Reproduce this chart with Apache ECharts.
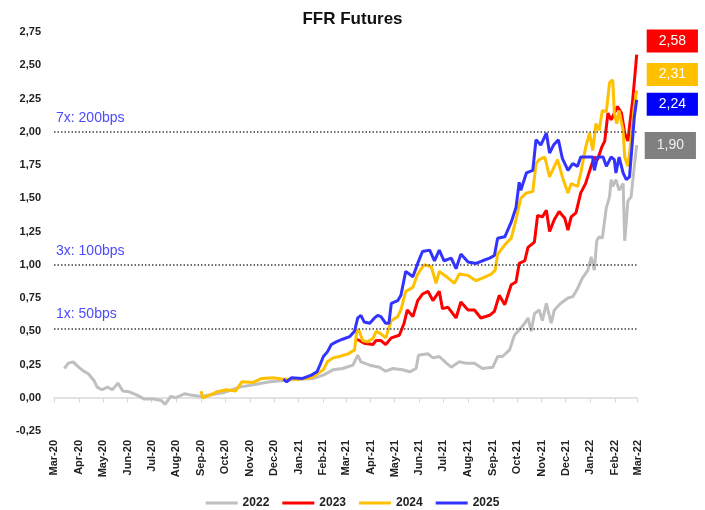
<!DOCTYPE html>
<html>
<head>
<meta charset="utf-8">
<script src="https://cdn.jsdelivr.net/npm/echarts@6/dist/echarts.min.js"></script>
<style>html,body{margin:0;padding:0;background:#fff}#c{width:705px;height:510px}</style>
</head>
<body>
<div id="c"></div>
<script>
const seriesNames = ['2022', '2023', '2024', '2025'];
const tickDates = ['2020-03-01','2020-04-01','2020-05-01','2020-06-01','2020-07-01','2020-08-01','2020-09-01','2020-10-01','2020-11-01','2020-12-01','2021-01-01','2021-02-01','2021-03-01','2021-04-01','2021-05-01','2021-06-01','2021-07-01','2021-08-01','2021-09-01','2021-10-01','2021-11-01','2021-12-01','2022-01-01','2022-02-01','2022-03-01'];
const tickLabels = ['Mar-20','Apr-20','May-20','Jun-20','Jul-20','Aug-20','Sep-20','Oct-20','Nov-20','Dec-20','Jan-21','Feb-21','Mar-21','Apr-21','May-21','Jun-21','Jul-21','Aug-21','Sep-21','Oct-21','Nov-21','Dec-21','Jan-22','Feb-22','Mar-22'];
const refLevels = [2.0, 1.0, 0.52];
const refLabels = ['7x: 200bps', '3x: 100bps', '1x: 50bps'];

const dates2022 = ['2020-03-14','2020-03-19','2020-03-25','2020-03-30','2020-04-07','2020-04-13','2020-04-20','2020-04-24','2020-04-30','2020-05-07','2020-05-13','2020-05-20','2020-05-26','2020-06-03','2020-06-13','2020-06-22','2020-07-04','2020-07-13','2020-07-18','2020-07-25','2020-07-31','2020-08-11','2020-08-19','2020-09-01','2020-09-11','2020-09-30','2020-10-19','2020-11-07','2020-11-26','2020-12-14','2021-01-02','2021-01-19','2021-02-01','2021-02-13','2021-02-25','2021-03-10','2021-03-16','2021-03-20','2021-03-31','2021-04-12','2021-04-20','2021-04-29','2021-05-11','2021-05-20','2021-05-28','2021-05-31','2021-06-12','2021-06-18','2021-06-26','2021-07-05','2021-07-11','2021-07-21','2021-07-30','2021-08-09','2021-08-19','2021-09-01','2021-09-07','2021-09-13','2021-09-22','2021-09-28','2021-10-04','2021-10-11','2021-10-15','2021-10-19','2021-10-23','2021-10-29','2021-11-02','2021-11-07','2021-11-13','2021-11-17','2021-11-25','2021-12-04','2021-12-10','2021-12-16','2021-12-22','2021-12-29','2022-01-02','2022-01-06','2022-01-09','2022-01-12','2022-01-16','2022-01-21','2022-01-25','2022-01-27','2022-01-29','2022-02-02','2022-02-06','2022-02-11','2022-02-13','2022-02-17','2022-02-21','2022-02-25','2022-02-28'];
const values2022 = [0.22,0.26,0.27,0.24,0.20,0.18,0.13,0.08,0.06,0.08,0.06,0.11,0.05,0.045,0.02,-0.01,-0.01,-0.02,-0.05,0.01,0.00,0.03,0.02,0.01,0.02,0.04,0.08,0.10,0.12,0.13,0.14,0.145,0.17,0.21,0.22,0.245,0.32,0.27,0.245,0.23,0.20,0.22,0.21,0.195,0.22,0.32,0.33,0.30,0.31,0.26,0.23,0.27,0.26,0.26,0.22,0.23,0.31,0.31,0.36,0.47,0.51,0.56,0.60,0.50,0.63,0.66,0.58,0.71,0.56,0.66,0.71,0.75,0.76,0.82,0.90,0.96,1.06,0.96,1.18,1.21,1.20,1.43,1.51,1.64,1.59,1.64,1.56,1.61,1.18,1.48,1.51,1.74,1.90];

const dates2023 = ['2021-03-15','2021-03-18','2021-03-24','2021-04-04','2021-04-08','2021-04-14','2021-04-20','2021-04-27','2021-05-07','2021-05-13','2021-05-17','2021-05-24','2021-05-30','2021-06-05','2021-06-12','2021-06-18','2021-06-26','2021-06-30','2021-07-07','2021-07-17','2021-07-23','2021-08-01','2021-08-09','2021-08-17','2021-08-28','2021-09-03','2021-09-09','2021-09-16','2021-09-24','2021-09-30','2021-10-04','2021-10-11','2021-10-15','2021-10-23','2021-10-27','2021-11-02','2021-11-07','2021-11-11','2021-11-17','2021-11-23','2021-11-30','2021-12-04','2021-12-08','2021-12-14','2021-12-20','2021-12-26','2022-01-02','2022-01-06','2022-01-10','2022-01-15','2022-01-19','2022-01-23','2022-01-27','2022-02-04','2022-02-09','2022-02-13','2022-02-17','2022-02-19','2022-02-23','2022-02-26','2022-02-28'];
const values2023 = [0.44,0.43,0.41,0.40,0.43,0.43,0.40,0.45,0.47,0.56,0.66,0.61,0.73,0.78,0.80,0.73,0.80,0.67,0.68,0.60,0.72,0.66,0.66,0.60,0.62,0.65,0.77,0.70,0.85,0.87,1.01,1.03,1.13,1.17,1.37,1.36,1.41,1.25,1.34,1.40,1.35,1.26,1.36,1.39,1.54,1.61,1.74,1.81,1.79,1.88,1.93,2.14,2.09,2.19,2.14,1.99,1.93,2.04,2.24,2.44,2.58];

const dates2024 = ['2020-09-01','2020-09-03','2020-09-12','2020-09-21','2020-10-03','2020-10-14','2020-10-22','2020-11-05','2020-11-16','2020-11-30','2020-12-13','2021-01-02','2021-01-17','2021-01-28','2021-02-01','2021-02-06','2021-02-13','2021-02-21','2021-03-04','2021-03-12','2021-03-15','2021-03-18','2021-03-22','2021-03-28','2021-04-04','2021-04-08','2021-04-14','2021-04-20','2021-04-22','2021-04-27','2021-05-05','2021-05-09','2021-05-15','2021-05-24','2021-05-30','2021-06-07','2021-06-16','2021-06-22','2021-06-26','2021-07-05','2021-07-15','2021-07-21','2021-08-01','2021-08-11','2021-08-19','2021-08-30','2021-09-04','2021-09-07','2021-09-16','2021-09-24','2021-09-30','2021-10-06','2021-10-13','2021-10-21','2021-10-25','2021-10-29','2021-11-05','2021-11-11','2021-11-17','2021-11-21','2021-11-27','2021-12-04','2021-12-08','2021-12-16','2021-12-20','2021-12-26','2021-12-31','2022-01-04','2022-01-08','2022-01-12','2022-01-16','2022-01-21','2022-01-25','2022-01-29','2022-01-31','2022-02-03','2022-02-06','2022-02-11','2022-02-13','2022-02-17','2022-02-21','2022-02-25','2022-02-28'];
const values2024 = [0.05,0.00,0.02,0.045,0.06,0.05,0.12,0.115,0.145,0.15,0.14,0.14,0.15,0.195,0.21,0.27,0.30,0.31,0.33,0.36,0.51,0.50,0.43,0.42,0.445,0.50,0.48,0.45,0.45,0.58,0.61,0.66,0.80,0.83,0.93,1.00,0.985,0.86,0.95,0.91,0.86,0.93,0.92,0.88,0.90,0.93,0.96,1.08,1.15,1.20,1.34,1.50,1.54,1.55,1.76,1.79,1.81,1.66,1.74,1.79,1.66,1.54,1.61,1.59,1.69,1.88,1.99,1.86,2.06,2.01,2.16,2.15,2.37,2.39,2.14,2.06,2.16,2.01,1.81,1.74,1.94,2.19,2.31];

const dates2025 = ['2020-12-13','2020-12-17','2020-12-23','2021-01-06','2021-01-17','2021-01-24','2021-01-28','2021-02-01','2021-02-06','2021-02-11','2021-02-17','2021-02-25','2021-03-06','2021-03-12','2021-03-16','2021-03-20','2021-03-24','2021-03-31','2021-04-06','2021-04-10','2021-04-14','2021-04-20','2021-04-24','2021-04-27','2021-05-05','2021-05-09','2021-05-15','2021-05-24','2021-05-30','2021-06-05','2021-06-14','2021-06-20','2021-06-26','2021-07-02','2021-07-11','2021-07-17','2021-07-23','2021-08-01','2021-08-11','2021-08-19','2021-08-28','2021-09-03','2021-09-07','2021-09-16','2021-09-24','2021-09-30','2021-10-04','2021-10-06','2021-10-13','2021-10-21','2021-10-25','2021-10-31','2021-11-07','2021-11-11','2021-11-16','2021-11-22','2021-11-27','2021-12-04','2021-12-10','2021-12-16','2021-12-20','2021-12-29','2022-01-04','2022-01-06','2022-01-10','2022-01-17','2022-01-21','2022-01-27','2022-01-31','2022-02-02','2022-02-06','2022-02-11','2022-02-15','2022-02-19','2022-02-22','2022-02-25','2022-02-28'];
const values2025 = [0.14,0.12,0.15,0.145,0.17,0.195,0.25,0.31,0.345,0.40,0.42,0.44,0.46,0.50,0.60,0.62,0.57,0.56,0.60,0.62,0.61,0.56,0.56,0.71,0.73,0.77,0.95,0.91,1.01,1.10,1.11,1.03,1.11,1.03,1.05,0.97,1.08,1.02,1.01,1.03,1.05,1.07,1.20,1.21,1.32,1.43,1.62,1.56,1.69,1.71,1.94,1.90,1.99,1.84,1.90,1.94,1.80,1.71,1.76,1.74,1.81,1.81,1.81,1.71,1.81,1.81,1.74,1.81,1.79,1.69,1.81,1.69,1.64,1.66,1.88,2.11,2.24];

const lineColors = ['#bfbfbf', '#ff0000', '#ffc000', '#3333ff'];
const boxColors = ['#808080', '#ff0000', '#ffc000', '#0000ff'];
const boxTextColors = ['#eeeeee', '#ffffff', '#ffffff', '#ffffff'];
const boxOffsets = [[0, 0.5], [0, -13.5], [0, -16], [0, 4.5]];
const boxDistances = [8, 10, 10, 10];
const boxPadding = [[6, 12], [4, 12], [4, 12], [4, 12]];

function ts(s) { const p = s.split('-').map(Number); return Date.UTC(p[0], p[1] - 1, p[2]); }
function fmtNum(v) { return v.toFixed(2).replace('.', ','); }

const allDates = [dates2022, dates2023, dates2024, dates2025];
const allValues = [values2022, values2023, values2024, values2025];
const tickTs = tickDates.map(ts);

const series = seriesNames.map((name, i) => {
  const s = {
    name: name,
    type: 'line',
    xAxisIndex: 0,
    showSymbol: false,
    symbol: 'none',
    data: allDates[i].map((d, k) => [ts(d), allValues[i][k]]),
    lineStyle: { width: 3, color: lineColors[i] },
    itemStyle: { color: lineColors[i] },
    endLabel: {
      show: true,
      formatter: p => fmtNum(p.value[1]),
      backgroundColor: boxColors[i],
      color: boxTextColors[i],
      fontFamily: 'Liberation Sans',
      fontSize: 14,
      lineHeight: 15,
      padding: boxPadding[i],
      distance: boxDistances[i],
      offset: boxOffsets[i]
    },
    z: 2 + i
  };
  if (i === 0) {
    s.markLine = {
      silent: true,
      symbol: 'none',
      lineStyle: { color: '#404040', type: [1.5, 2], width: 1.5 },
      data: refLevels.map((v, k) => ({
        yAxis: v,
        label: {
          show: true,
          position: 'insideStartTop',
          formatter: refLabels[k],
          color: '#4b4bff',
          fontFamily: 'Liberation Sans',
          fontSize: 14,
          distance: [2, 7]
        }
      }))
    };
  }
  return s;
});

const chart = echarts.init(document.getElementById('c'), null, { renderer: 'canvas' });
chart.setOption({
  animation: false,
  backgroundColor: '#ffffff',
  title: {
    text: 'FFR Futures',
    left: 'center',
    top: 6,
    textStyle: { fontFamily: 'Liberation Sans', fontWeight: 'bold', fontSize: 17, color: '#111' }
  },
  legend: {
    data: seriesNames,
    top: 492,
    left: 'center',
    icon: 'rect',
    itemWidth: 32,
    itemHeight: 3,
    itemGap: 13,
    textStyle: { fontFamily: 'Liberation Sans', fontWeight: 'bold', fontSize: 12, color: '#222' }
  },
  grid: { left: 54, top: 32, width: 583.5, height: 399, containLabel: false },
  xAxis: [
    {
      type: 'value',
      min: tickTs[0],
      max: tickTs[tickTs.length - 1],
      axisLine: { show: true, onZero: true, lineStyle: { color: '#d9d9d9', width: 1.5 } },
      axisTick: { show: true, length: 5, lineStyle: { color: '#d9d9d9' }, customValues: tickTs },
      axisLabel: { show: false },
      splitLine: { show: false }
    },
    {
      type: 'value',
      position: 'bottom',
      min: tickTs[0],
      max: tickTs[tickTs.length - 1],
      axisLine: { show: false, onZero: false },
      axisTick: { show: false },
      axisLabel: {
        show: true,
        rotate: 90,
        margin: 9,
        customValues: tickTs,
        formatter: v => { const k = tickTs.indexOf(v); return k >= 0 ? tickLabels[k] : ''; },
        fontFamily: 'Liberation Sans',
        fontWeight: 'bold',
        fontSize: 11,
        color: '#222'
      },
      splitLine: { show: false }
    }
  ],
  yAxis: {
    type: 'value',
    min: -0.25,
    max: 2.75,
    interval: 0.25,
    axisLine: { show: false },
    axisTick: { show: false },
    splitLine: { show: false },
    axisLabel: {
      margin: 13,
      formatter: v => fmtNum(v),
      fontFamily: 'Liberation Sans',
      fontWeight: 'bold',
      fontSize: 11,
      color: '#222'
    }
  },
  series: series
});
</script>
</body>
</html>
